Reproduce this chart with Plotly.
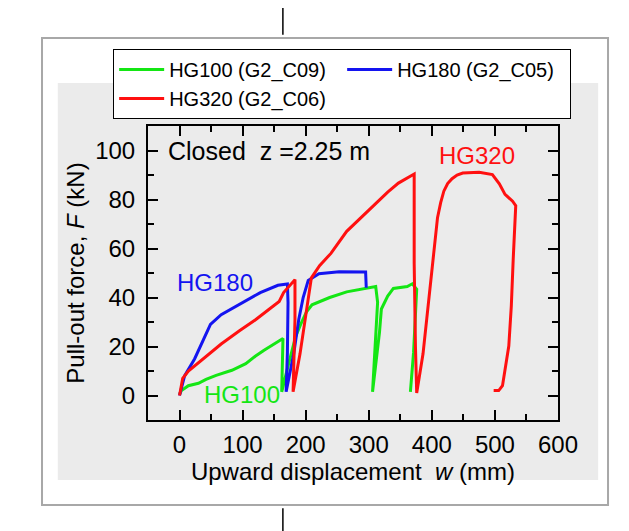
import plotly.graph_objects as go

# ---- data (de-rotated) ----
hg100_x = [0, 3, 14, 30, 42, 58, 83, 105, 120, 134, 164, 163, 162, 172, 184, 192, 201, 210, 238, 265, 297, 311,
           314, 310, 306, 317, 320, 330, 339, 361, 369, 376, 371, 366]
hg100_f = [0.5, 2, 4, 5, 6.6, 8.2, 10.3, 13, 16, 18.5, 23.3, 12, 1.5, 12, 24, 29, 34, 37, 40, 42.3, 44, 44.5,
           38, 19, 1.5, 25.8, 35.3, 40.6, 43.7, 44.5, 45.6, 43.4, 17.5, 1.5]

hg180_x = [0, 8, 24, 38, 49, 66, 94, 128, 156, 171, 172, 171, 169, 181, 189, 196, 204, 221, 253, 295, 296]
hg180_f = [0, 8, 15, 22.5, 29, 33, 37, 42, 45, 45.5, 38, 17.5, 1.5, 17, 31, 40, 47, 49.7, 50.5, 50.4, 44]

hg320_x = [0, 5, 14, 37, 66, 95, 121, 141, 158, 165, 170, 183, 183, 180, 191, 202, 209, 222, 240, 265, 289, 309,
           330, 347, 372, 372, 372, 374, 376, 386, 397, 409, 414, 419, 425, 432, 440, 449, 475, 496, 507, 516,
           528, 533, 529, 526, 522, 512, 506, 498]
hg320_f = [0, 7, 10, 15, 21, 26.4, 31, 35, 38.4, 42, 43.5, 47.3, 31, 1.5, 17, 37, 48, 53, 58, 67, 73, 78,
           83, 86.7, 90.4, 71, 54, 20, 1, 17, 44, 72.6, 78.7, 83.4, 86.5, 88.5, 90, 90.8, 91.1, 90.2, 86.4, 82.1,
           79.3, 77.5, 55.7, 36.6, 20.2, 4, 2, 2]

series_names = ["HG100 (G2_C09)", "HG180 (G2_C05)", "HG320 (G2_C06)"]
series_colors = ["#14e614", "#1414f0", "#ff1010"]

x_ticks = [0, 100, 200, 300, 400, 500, 600]
y_ticks = [0, 20, 40, 60, 80, 100]

FONT = "Arial, Liberation Sans, sans-serif"
GRAY = "#ebebeb"

fig = go.Figure()
for xs, fs, name, col in zip([hg100_x, hg180_x, hg320_x], [hg100_f, hg180_f, hg320_f],
                             series_names, series_colors):
    fig.add_trace(go.Scatter(x=xs, y=fs, mode="lines", name=name,
                             line=dict(color=col, width=3)))

axis_common = dict(showline=True, linecolor="black", linewidth=2, mirror="ticks",
                   ticks="inside", ticklen=10, tickwidth=2, tickcolor="black",
                   showgrid=False, zeroline=False,
                   tickfont=dict(family=FONT, size=24, color="black"))

fig.update_xaxes(range=[-50, 600], tickvals=x_ticks,
                 minor=dict(dtick=50, tick0=0, ticks="inside", ticklen=6, tickwidth=2, tickcolor="black"),
                 title=dict(text="Upward displacement  <i>w</i> (mm)", standoff=6,
                            font=dict(family=FONT, size=24, color="black")),
                 ticklabelstandoff=2,
                 **axis_common)
fig.update_yaxes(range=[-10, 110], tickvals=y_ticks,
                 minor=dict(dtick=10, tick0=0, ticks="inside", ticklen=6, tickwidth=2, tickcolor="black"),
                 title=dict(text="Pull-out force, <i>F</i> (kN)", standoff=4,
                            font=dict(family=FONT, size=24, color="black")),
                 ticklabelstandoff=6,
                 **axis_common)

fig.add_annotation(x=-22, y=100, xref="x", yref="y", text="Closed\u00a0\u00a0z\u00a0=2.25 m",
                   showarrow=False, xanchor="left", yanchor="middle",
                   font=dict(family=FONT, size=25, color="black"))
fig.add_annotation(x=472, y=98, xref="x", yref="y", text="HG320", showarrow=False,
                   font=dict(family=FONT, size=24, color=series_colors[2]))
fig.add_annotation(x=56, y=46, xref="x", yref="y", text="HG180", showarrow=False,
                   font=dict(family=FONT, size=24, color=series_colors[1]))
fig.add_annotation(x=99, y=0.5, xref="x", yref="y", text="HG100", showarrow=False,
                   font=dict(family=FONT, size=24, color=series_colors[0]))

# card outline and gray panel
fig.add_shape(type="rect", xref="paper", yref="paper", x0=-0.2585, x1=1.122, y0=-0.289, y1=1.299,
              line=dict(color="#a8a8a8", width=2), fillcolor="white", layer="below")
fig.add_shape(type="rect", xref="paper", yref="paper", x0=-0.22, x1=1.098, y0=-0.204, y1=1.146,
              line=dict(width=0), fillcolor=GRAY, layer="below")
# page line behind the card
fig.add_shape(type="line", xref="paper", yref="paper", x0=0.329, x1=0.329, y0=1.31, y1=1.41,
              line=dict(color="black", width=1.5))
fig.add_shape(type="line", xref="paper", yref="paper", x0=0.329, x1=0.329, y0=-0.30, y1=-0.41,
              line=dict(color="black", width=1.5))

fig.update_layout(
    width=629, height=531, autosize=False,
    margin=dict(l=140, r=79, t=118, b=119),
    paper_bgcolor="white", plot_bgcolor=GRAY,
    font=dict(family=FONT, color="black"),
    legend=dict(orientation="h", x=-0.085, xanchor="left", y=1.024, yanchor="bottom",
                bgcolor="white", bordercolor="black", borderwidth=1,
                font=dict(family=FONT, size=20, color="black"),
                itemwidth=45, entrywidth=168, entrywidthmode="pixels",
                traceorder="normal"),
)

fig.write_html("out.html")
